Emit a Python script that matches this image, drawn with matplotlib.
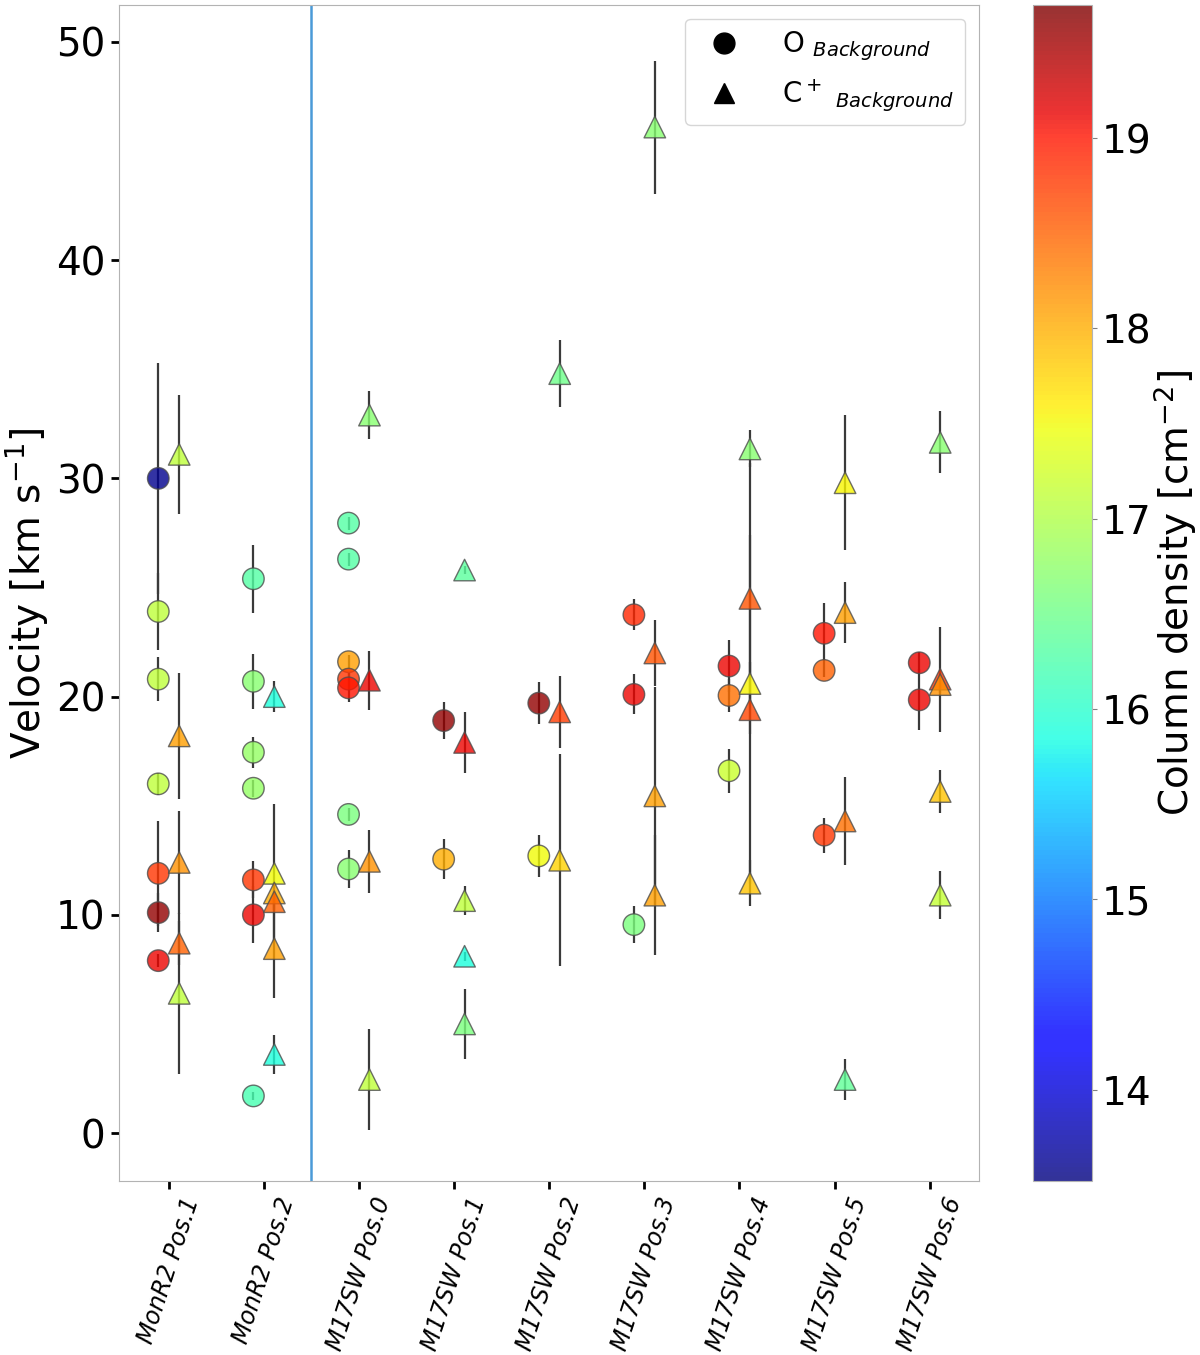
import numpy as np
import matplotlib.pyplot as plt
from matplotlib.lines import Line2D

# position names on the x axis
positions = ['MonR2 Pos.1', 'MonR2 Pos.2', 'M17SW Pos.0', 'M17SW Pos.1', 'M17SW Pos.2',
             'M17SW Pos.3', 'M17SW Pos.4', 'M17SW Pos.5', 'M17SW Pos.6']

# O background components: position index, velocity, error, log column density
o_pos = [0, 0, 0, 0, 0, 0, 0,
         1, 1, 1, 1, 1, 1, 1,
         2, 2, 2, 2, 2, 2, 2,
         3, 3,
         4, 4,
         5, 5, 5,
         6, 6, 6,
         7, 7, 7,
         8, 8]
o_vel = [30.0, 23.9, 20.8, 16.0, 11.9, 10.1, 7.9,
         25.4, 20.7, 17.45, 15.8, 11.6, 10.0, 1.7,
         27.95, 26.3, 21.6, 20.8, 20.4, 14.6, 12.1,
         18.9, 12.55,
         19.7, 12.7,
         23.75, 20.1, 9.55,
         21.4, 20.05, 16.6,
         22.9, 21.2, 13.65,
         21.55, 19.85]
o_err = [5.3, 1.75, 1.0, 0.5, 2.4, 0.9, 0.3,
         1.55, 1.26, 0.7, 0.4, 0.85, 1.3, 0.2,
         0.3, 0.3, 0.3, 0.3, 0.66, 0.3, 0.85,
         0.83, 0.92,
         0.95, 0.95,
         0.7, 0.92, 0.85,
         1.2, 0.75, 1.0,
         1.4, 0.3, 0.8,
         0.5, 1.4]
o_col = [13.6, 17.1, 17.1, 17.1, 18.8, 19.6, 19.1,
         16.3, 16.7, 16.8, 16.8, 18.8, 19.1, 16.2,
         16.3, 16.3, 18.1, 18.8, 19.0, 16.6, 16.7,
         19.6, 18.0,
         19.6, 17.5,
         18.9, 19.1, 16.6,
         19.1, 18.4, 17.2,
         19.0, 18.5, 18.8,
         19.1, 19.1]

# C+ background components
c_pos = [0, 0, 0, 0, 0,
         1, 1, 1, 1, 1, 1,
         2, 2, 2, 2,
         3, 3, 3, 3, 3,
         4, 4, 4,
         5, 5, 5, 5,
         6, 6, 6, 6, 6,
         7, 7, 7, 7,
         8, 8, 8, 8, 8]
c_vel = [31.1, 18.2, 12.4, 8.7, 6.4,
         20.0, 11.9, 11.0, 10.6, 8.45, 3.6,
         32.9, 20.75, 12.45, 2.45,
         25.8, 17.9, 10.65, 8.1, 5.0,
         34.8, 19.3, 12.5,
         46.1, 22.0, 15.45, 10.9,
         31.35, 24.5, 20.6, 19.4, 11.45,
         29.8, 23.85, 14.3, 2.45,
         31.65, 20.8, 20.55, 15.65, 10.9]
c_err = [2.74, 2.9, 2.35, 1.0, 3.7,
         0.7, 3.2, 0.5, 0.4, 2.25, 0.9,
         1.1, 1.35, 1.43, 2.3,
         0.2, 1.4, 0.65, 0.2, 1.6,
         1.55, 1.65, 4.85,
         3.05, 1.5, 5.0, 2.75,
         0.85, 6.2, 1.0, 8.0, 1.05,
         3.1, 1.4, 2.0, 0.92,
         1.42, 2.4, 0.4, 1.0, 1.1]
c_col = [17.1, 18.1, 18.2, 18.5, 17.1,
         15.9, 17.5, 18.0, 18.5, 18.1, 15.9,
         16.7, 19.1, 18.2, 17.1,
         16.35, 19.1, 17.1, 15.9, 16.6,
         16.5, 18.75, 17.75,
         16.7, 18.6, 18.1, 18.1,
         16.7, 18.6, 17.55, 18.7, 17.85,
         17.55, 18.1, 18.4, 16.4,
         16.7, 18.8, 18.2, 17.85, 17.15]

vmin, vmax = 13.52, 19.70

fig = plt.figure(figsize=(12, 13.55), dpi=100)
ax = fig.add_axes([0.099, 0.1284, 0.717, 0.868])
cax = fig.add_axes([0.861, 0.1284, 0.049, 0.868])

xo = np.array(o_pos) - 0.11
xc = np.array(c_pos) + 0.11

# error bars first, markers on top
ax.errorbar(xo, o_vel, yerr=o_err, fmt='none', ecolor='#3a3a3a', elinewidth=1.6, zorder=1)
ax.errorbar(xc, c_vel, yerr=c_err, fmt='none', ecolor='#3a3a3a', elinewidth=1.6, zorder=1)

sc = ax.scatter(xo, o_vel, c=o_col, cmap='jet', vmin=vmin, vmax=vmax, s=240, marker='o',
                edgecolors='0.3', linewidths=1.0, alpha=0.8, zorder=2)
ax.scatter(xc, c_vel, c=c_col, cmap='jet', vmin=vmin, vmax=vmax, s=240, marker='^',
           edgecolors='0.3', linewidths=1.0, alpha=0.8, zorder=2)

# separates MonR2 from M17SW
ax.axvline(1.5, color='#4a9ad8', lw=1.8)

ax.set_xlim(-0.525, 8.52)
ax.set_ylim(-2.2, 51.7)
ax.set_xticks(range(len(positions)))
ax.set_xticklabels(positions, rotation=72, fontsize=17, style='italic')
ax.set_yticks([0, 10, 20, 30, 40, 50])
ax.tick_params(axis='y', labelsize=28, width=2, length=6)
ax.tick_params(axis='x', width=2, length=6)
ax.set_ylabel(r'Velocity [km s$^{-1}$]', fontsize=28)
for sp in ax.spines.values():
    sp.set_color('0.7')

handles = [Line2D([], [], marker='o', color='k', ls='none', markersize=15),
           Line2D([], [], marker='^', color='k', ls='none', markersize=15)]
ax.legend(handles, [r'O $_{Background}$', r'C$^+$ $_{Background}$'], loc='upper right',
          fontsize=20, handletextpad=1.1)

cb = fig.colorbar(sc, cax=cax)
cb.set_ticks([14, 15, 16, 17, 18, 19])
cb.ax.tick_params(labelsize=28, color='0.5')
cb.outline.set_edgecolor('0.7')
cb.set_label(r'Column density [cm$^{-2}$]', fontsize=28, labelpad=0)

fig.savefig('out.png', dpi=100)
